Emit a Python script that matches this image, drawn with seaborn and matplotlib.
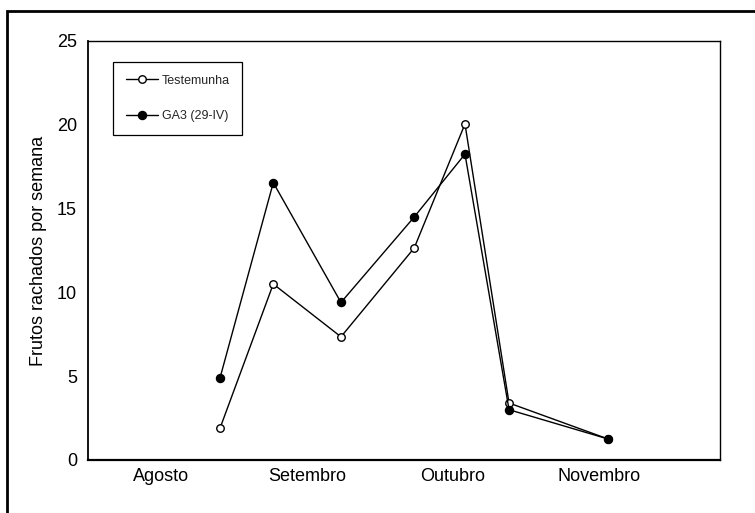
import matplotlib
matplotlib.use("Agg")
import matplotlib.pyplot as plt
from matplotlib.patches import Rectangle
from matplotlib.ticker import FixedLocator, NullFormatter, FixedFormatter
import seaborn as sns
import pandas as pd

# ---- data (x in months since 1 August) ----
months = ["Agosto", "Setembro", "Outubro", "Novembro"]
x_test = [0.905, 1.270, 1.734, 2.236, 2.584, 2.886, 3.566]
y_test = [1.9, 10.5, 7.35, 12.65, 20.05, 3.4, 1.25]
x_ga3 = [0.905, 1.270, 1.734, 2.236, 2.584, 2.886, 3.566]
y_ga3 = [4.9, 16.55, 9.4, 14.5, 18.25, 3.0, 1.25]
series_names = ["Testemunha", "GA3 (29-IV)"]
y_ticks = [0, 5, 10, 15, 20, 25]

df_test = pd.DataFrame({"x": x_test, "y": y_test})
df_ga3 = pd.DataFrame({"x": x_ga3, "y": y_ga3})

sns.set_style("white")
plt.rcParams["font.family"] = ["Liberation Sans", "DejaVu Sans"]

W, H = 755, 513
fig = plt.figure(figsize=(W / 100, H / 100), dpi=100)
ax = fig.add_axes([88 / W, 1 - 460 / H, 632 / W, 419 / H])

sns.lineplot(data=df_test, x="x", y="y", ax=ax, color="black", lw=1.0,
             marker="o", markersize=5.4, markerfacecolor="white",
             markeredgecolor="black", markeredgewidth=1.0,
             label=series_names[0], zorder=3)
sns.lineplot(data=df_ga3, x="x", y="y", ax=ax, color="black", lw=1.0,
             marker="o", markersize=5.8, markerfacecolor="black",
             markeredgecolor="black", markeredgewidth=1.0,
             label=series_names[1], zorder=4)

ax.set_xlim(0, 4.332)
ax.set_ylim(0, 25)
ax.set_yticks(y_ticks)
ax.set_yticklabels([str(v) for v in y_ticks])

ax.xaxis.set_major_locator(FixedLocator([0, 1, 2, 3, 4]))
ax.xaxis.set_major_formatter(NullFormatter())
ax.xaxis.set_minor_locator(FixedLocator([0.5, 1.5, 2.5, 3.5]))
ax.xaxis.set_minor_formatter(FixedFormatter(months))

ax.tick_params(axis="both", which="major", direction="in", length=4,
               width=0.8, color="black", labelsize=13, labelcolor="black")
ax.tick_params(axis="y", which="major", pad=8)
ax.tick_params(axis="x", which="minor", length=0, pad=6, labelsize=13,
               labelcolor="black")

ax.set_xlabel("")
ax.set_ylabel("Frutos rachados por semana", fontsize=13, color="black",
              labelpad=7)

for s in ax.spines.values():
    s.set_visible(True)
    s.set_color("black")
    s.set_linewidth(1.0)
ax.spines["bottom"].set_linewidth(1.6)
ax.spines["left"].set_linewidth(1.3)

leg = ax.legend(loc="upper left", bbox_to_anchor=(113 / W, 1 - 62 / H),
                bbox_transform=fig.transFigure, borderaxespad=0,
                fontsize=9, frameon=True, fancybox=False,
                handlelength=2.6, handletextpad=0.3, labelspacing=1.9,
                borderpad=1.0)
leg.get_frame().set_edgecolor("black")
leg.get_frame().set_linewidth(0.9)
leg.get_frame().set_alpha(1)

# outer frame of the figure
fig.patches.append(Rectangle((6.5 / W, -0.05), 1.2, 1 - 11 / H + 0.05,
                             transform=fig.transFigure, fill=False,
                             edgecolor="black", linewidth=2.0,
                             clip_on=False))

fig.savefig("out.png", dpi=100)
